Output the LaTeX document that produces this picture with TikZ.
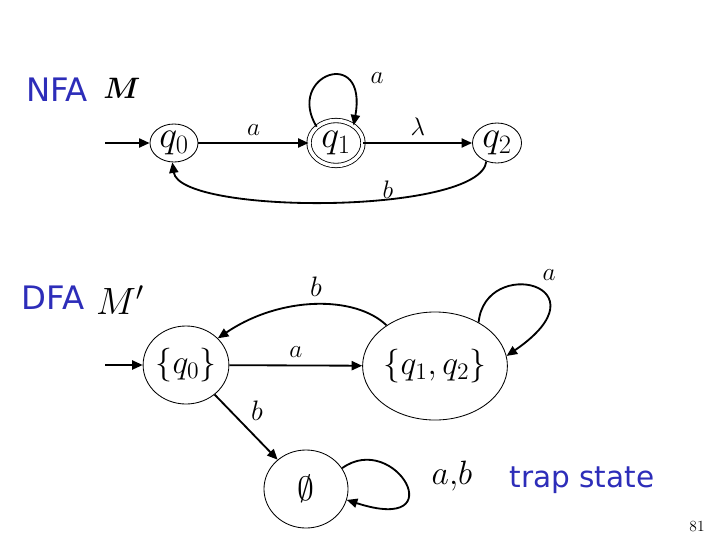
\RequirePackage{fix-cm}
\documentclass[tikz,border=0pt]{standalone}
\usepackage{amsmath,amssymb}
\usepackage{fontspec}
\newfontfamily\slidefont{DejaVu Sans}
\usetikzlibrary{arrows.meta,shapes.geometric}
\definecolor{slideblue}{RGB}{45,45,185}
\tikzset{
	state/.style={draw,ellipse,line width=0.6pt,inner sep=0pt},
	nstate/.style={state,font=\fontsize{27}{32}\selectfont},
	dstate/.style={state,font=\fontsize{24}{29}\selectfont,minimum width=2.1cm,minimum height=1.95cm},
	trans/.style={line width=1.3pt,-{Triangle[length=7.5pt,width=6.5pt]}},
	lbl/.style={font=\fontsize{18}{22}\selectfont},
	bluetext/.style={text=slideblue,font=\slidefont\fontsize{23}{27}\selectfont}
}
\begin{document}
\begin{tikzpicture}[x=0.025cm,y=-0.025cm]
	\useasboundingbox (0,0) rectangle (720,540);
	\node[bluetext] (nfa) at (57,90) {NFA};
	\node[font=\fontsize{21}{25}\selectfont] (m) at (122,88) {$\boldsymbol{M}$};
	\node[nstate,minimum width=1.2cm,minimum height=0.95cm] (q0) at (174,143) {$q_0$};
	\node[nstate,double,double distance=2.5pt,minimum width=1.35cm,minimum height=1.125cm] (q1) at (336,143) {$q_1$};
	\node[nstate,minimum width=1.225cm,minimum height=1cm] (q2) at (497,143) {$q_2$};
	\coordinate (s1) at (105,143);
	\draw[trans] (s1) -- (q0);
	\draw[trans] (q0) -- (q1) node[lbl,midway,above=1pt] (la1) {$a$};
	\draw[trans] (q1) -- (q2) node[lbl,midway,above=1pt] (ll) {$\lambda$};
	\draw[trans] (q1.140) .. controls (285,75) and (368,45) .. (q1.45);
	\draw[trans] (q2.240) .. controls (480,215) and (180,215) .. (q0.265);
	\node[lbl] (la2) at (377,78) {$a$};
	\node[lbl] (lb1) at (388,190) {$b$};
	\node[bluetext] (dfa) at (53,298) {DFA};
	\node[font=\fontsize{27}{32}\selectfont] (mp) at (120,300) {$M'$};
	\node[dstate] (d0) at (186,365) {$\{q_0\}$};
	\node[dstate,minimum width=2.85cm,minimum height=2.7cm] (d12) at (435,366) {$\{q_1,q_2\}$};
	\node[dstate,font=\fontsize{24}{29}\selectfont] (e) at (306,489) {$\emptyset$};
	\coordinate (s2) at (105,365);
	\draw[trans] (s2) -- (d0);
	\draw[trans] (d0) -- (d12) node[lbl,midway,above=2pt] (la3) {$a$};
	\draw[trans] (d12.140) .. controls (355,295) and (280,296) .. (d0.40);
	\draw[trans] (d0) -- (e);
	\draw[trans] (d12.45) .. controls (485,255) and (610,285) .. (d12.8);
	\draw[trans] (e.30) .. controls (395,430) and (455,535) .. (e.345);
	\node[font=\fontsize{20}{24}\selectfont] (lb2) at (316,287) {$b$};
	\node[font=\fontsize{20}{24}\selectfont] (lb3) at (257,411) {$b$};
	\node[lbl] (la4) at (549,275) {$a$};
	\node[font=\fontsize{24}{29}\selectfont] (lab) at (452,476) {$a{,}b$};
	\node[bluetext,font=\slidefont\fontsize{21}{25}\selectfont] (trap) at (582,480) {trap state};
	\node[font=\fontsize{11}{13}\selectfont] (pg) at (697,527) {81};
\end{tikzpicture}
\end{document}
